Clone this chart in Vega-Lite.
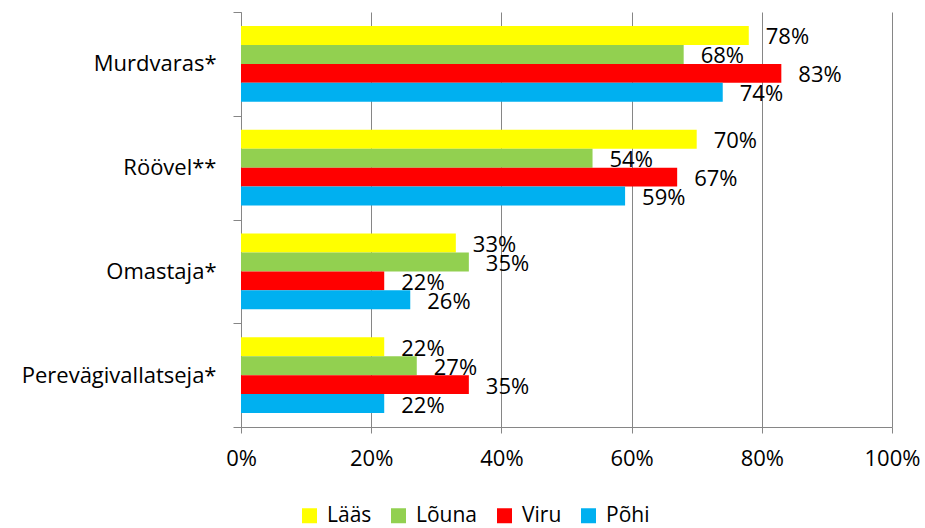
{
  "$schema": "https://vega.github.io/schema/vega-lite/v6.json",
  "autosize": {"type": "none"},
  "width": 651,
  "height": 415,
  "padding": {"left": 241, "top": 12, "right": 33, "bottom": 101},
  "background": "white",
  "config": {
    "font": "Open Sans",
    "view": {"stroke": null},
    "axis": {"labelFont": "Open Sans", "labelFontSize": 22, "labelColor": "#000000", "domainColor": "#868686", "tickColor": "#868686", "gridColor": "#868686", "titleFontSize": 20},
    "legend": {"labelFont": "Open Sans", "labelFontSize": 21, "labelColor": "#000000"}
  },
  "data": {
    "values": [
      {"cat": "Murdvaras*", "region": "Lääs", "value": 0.78},
      {"cat": "Murdvaras*", "region": "Lõuna", "value": 0.68},
      {"cat": "Murdvaras*", "region": "Viru", "value": 0.83},
      {"cat": "Murdvaras*", "region": "Põhi", "value": 0.74},
      {"cat": "Röövel**", "region": "Lääs", "value": 0.70},
      {"cat": "Röövel**", "region": "Lõuna", "value": 0.54},
      {"cat": "Röövel**", "region": "Viru", "value": 0.67},
      {"cat": "Röövel**", "region": "Põhi", "value": 0.59},
      {"cat": "Omastaja*", "region": "Lääs", "value": 0.33},
      {"cat": "Omastaja*", "region": "Lõuna", "value": 0.35},
      {"cat": "Omastaja*", "region": "Viru", "value": 0.22},
      {"cat": "Omastaja*", "region": "Põhi", "value": 0.26},
      {"cat": "Perevägivallatseja*", "region": "Lääs", "value": 0.22},
      {"cat": "Perevägivallatseja*", "region": "Lõuna", "value": 0.27},
      {"cat": "Perevägivallatseja*", "region": "Viru", "value": 0.35},
      {"cat": "Perevägivallatseja*", "region": "Põhi", "value": 0.22}
    ]
  },
  "encoding": {
    "y": {
      "field": "cat", "type": "nominal", "title": null,
      "sort": ["Murdvaras*", "Röövel**", "Omastaja*", "Perevägivallatseja*"],
      "scale": {"paddingInner": 0, "paddingOuter": 0},
      "axis": {"tickBand": "extent", "tickSize": 8, "labelPadding": 17, "labelLimit": 400, "domain": true, "grid": false}
    },
    "yOffset": {
      "field": "region", "type": "nominal",
      "sort": ["Lääs", "Lõuna", "Viru", "Põhi"],
      "scale": {"paddingInner": 0, "paddingOuter": 0.737}
    },
    "x": {
      "field": "value", "type": "quantitative", "title": null,
      "scale": {"domain": [0, 1]},
      "axis": {"format": ".0%", "values": [0, 0.2, 0.4, 0.6, 0.8, 1], "grid": true, "tickSize": 6, "labelPadding": 15, "labelFlush": false}
    }
  },
  "layer": [
    {
      "mark": {"type": "bar"},
      "encoding": {
        "color": {
          "field": "region", "type": "nominal",
          "sort": ["Lääs", "Lõuna", "Viru", "Põhi"],
          "scale": {"domain": ["Lääs", "Lõuna", "Viru", "Põhi"], "range": ["#FFFF00", "#92D050", "#FF0000", "#00B0F0"]},
          "legend": {"title": null, "orient": "none", "direction": "horizontal", "legendX": 58, "legendY": 493, "symbolType": "square", "symbolSize": 225, "symbolStrokeWidth": 0, "labelOffset": 7, "columnPadding": 16}
        }
      }
    },
    {
      "mark": {"type": "text", "align": "left", "baseline": "middle", "dx": 17, "dy": 2, "fontSize": 22, "color": "#000000"},
      "encoding": {
        "text": {"field": "value", "type": "quantitative", "format": ".0%"}
      }
    }
  ]
}
